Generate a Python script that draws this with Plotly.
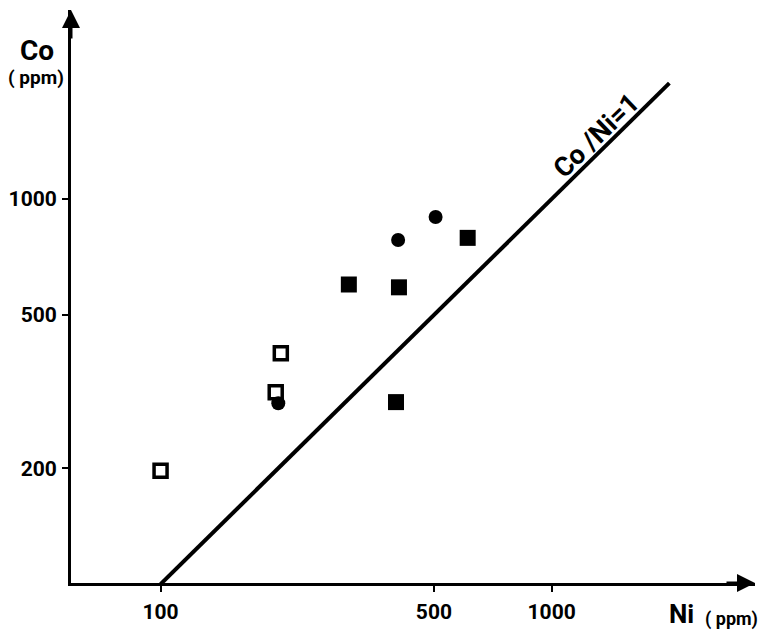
import plotly.graph_objects as go

# Data (ppm)
open_sq_ni = [100, 203, 197]
open_sq_co = [197, 398, 315]
circle_ni = [200, 405, 505]
circle_co = [295, 783, 898]
filled_sq_ni = [303, 407, 610, 400]
filled_sq_co = [600, 590, 793, 297]
line_ni = [100, 2000]
line_co = [100, 2000]
x_ticks = [100, 500, 1000]
y_ticks = [200, 500, 1000]

FONT = "Roboto, Noto Sans, sans-serif"
L, R, T, B = 71, 755, 10, 583
PW, PH = R - L, B - T


def px(x):
    return (x - L) / PW


def py(y):
    return (B - y) / PH


fig = go.Figure()
fig.add_trace(go.Scatter(x=line_ni, y=line_co, mode="lines",
                         line=dict(color="black", width=4), showlegend=False))
fig.add_trace(go.Scatter(x=open_sq_ni, y=open_sq_co, mode="markers",
                         marker=dict(symbol="square", size=13, color="white",
                                     line=dict(color="black", width=3.5)),
                         showlegend=False))
fig.add_trace(go.Scatter(x=circle_ni, y=circle_co, mode="markers",
                         marker=dict(symbol="circle", size=14, color="black"),
                         showlegend=False))
fig.add_trace(go.Scatter(x=filled_sq_ni, y=filled_sq_co, mode="markers",
                         marker=dict(symbol="square", size=16, color="black"),
                         showlegend=False))

tickfont = dict(family=FONT, size=21, weight="bold", color="black")
fig.update_layout(
    width=761, height=635,
    margin=dict(l=L, r=761 - R, t=T, b=635 - B),
    paper_bgcolor="white", plot_bgcolor="white",
    font=dict(family=FONT, size=20, color="black"),
    xaxis=dict(type="log", range=[1.771, 3.520], tickvals=x_ticks,
               ticktext=[str(v) for v in x_ticks],
               showgrid=False, zeroline=False, showline=True,
               linecolor="black", linewidth=3, ticks="outside",
               ticklen=6, tickwidth=2, tickcolor="black",
               tickfont=tickfont, ticklabelstandoff=2),
    yaxis=dict(type="log", range=[2.003, 3.491], tickvals=y_ticks,
               ticktext=[str(v) for v in y_ticks],
               showgrid=False, zeroline=False, showline=True,
               linecolor="black", linewidth=3, ticks="outside",
               ticklen=6, tickwidth=2, tickcolor="black",
               tickfont=tickfont, ticklabelstandoff=1),
)

# axis arrows
fig.add_annotation(xref="paper", yref="paper", x=1, y=0, ax=-30, ay=0,
                   axref="pixel", ayref="pixel", text="", showarrow=True,
                   arrowhead=2, arrowsize=1.2, arrowwidth=3, arrowcolor="black",
                   standoff=0)
fig.add_annotation(xref="paper", yref="paper", x=0, y=1, ax=0, ay=30,
                   axref="pixel", ayref="pixel", text="", showarrow=True,
                   arrowhead=2, arrowsize=1.2, arrowwidth=3, arrowcolor="black",
                   standoff=0)


def label(x, y, text, size, angle=0):
    fig.add_annotation(xref="paper", yref="paper", x=px(x), y=py(y), text=text,
                       showarrow=False, xanchor="center", yanchor="middle",
                       textangle=angle,
                       font=dict(family=FONT, size=size, weight="bold",
                                 color="black"))


# axis titles
label(37, 50, "Co", 28)
label(36, 77, "( ppm)", 19)
label(681, 614, "Ni", 26)
label(731, 619, "( ppm)", 18)

# line label
label(596, 136, "Co /Ni=1", 27, angle=-44)

fig.write_html("out.html")
